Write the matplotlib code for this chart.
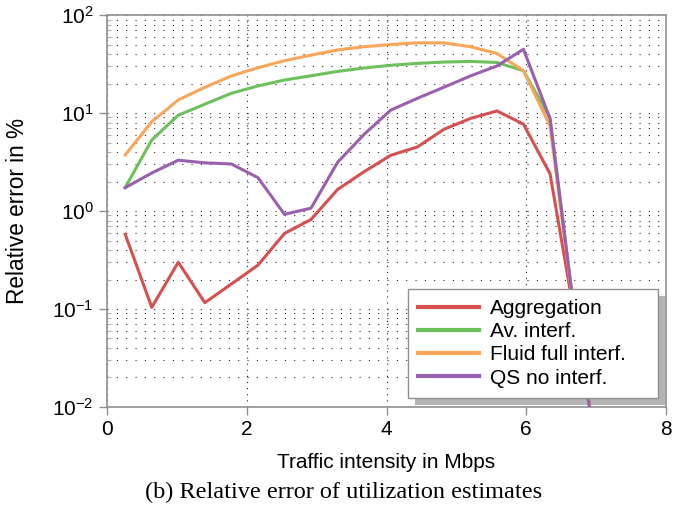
import matplotlib
matplotlib.use('Agg')
import matplotlib.pyplot as plt
from matplotlib.patches import Rectangle
from matplotlib.ticker import LogLocator, LogFormatterSciNotation, NullFormatter

plt.rcParams['font.family'] = ['Liberation Sans', 'DejaVu Sans']
plt.rcParams['mathtext.fontset'] = 'custom'
plt.rcParams['mathtext.rm'] = 'Liberation Sans'

# traffic intensity (Mbps) and relative errors (%)
traffic = [0.26, 0.64, 1.02, 1.40, 1.78, 2.16, 2.54, 2.92, 3.30, 3.68,
           4.06, 4.44, 4.82, 5.20, 5.58, 5.96, 6.34, 6.72, 7.10]

aggregation = [0.58, 0.104, 0.30, 0.116, 0.18, 0.28, 0.59, 0.82, 1.66, 2.52,
               3.7, 4.5, 6.8, 8.8, 10.5, 7.7, 2.4, 0.065, 0.0015]
av_interf = [1.73, 5.3, 9.5, 12.3, 15.9, 18.9, 21.7, 24.0, 26.6, 28.8,
             30.7, 32.1, 33.1, 33.6, 32.8, 27.0, 8.9, 0.06, 0.0015]
fluid_full = [3.73, 8.15, 13.6, 18.3, 23.9, 29.0, 34.2, 39.0, 44.0, 47.5,
              50.0, 52.0, 52.0, 47.5, 40.6, 27.0, 7.4, 0.06, 0.0015]
qs_no_interf = [1.73, 2.44, 3.3, 3.1, 3.02, 2.19, 0.925, 1.07, 3.14, 6.06,
                10.7, 14.1, 18.3, 23.9, 30.2, 44.7, 8.8, 0.06, 0.0015]

labels = ['Aggregation', 'Av. interf.', 'Fluid full interf.', 'QS no interf.']
colors = ['#d65050', '#6dc05c', '#f9a55a', '#9a60b0']

fig = plt.figure(figsize=(6.73, 5.18), dpi=100)
ax = fig.add_axes([0.159, 0.2143, 0.8306, 0.7567])

for ys, lab, c in zip([aggregation, av_interf, fluid_full, qs_no_interf], labels, colors):
    ax.plot(traffic, ys, color=c, lw=2.2, label=lab, zorder=3)

ax.set_yscale('log')
ax.set_xlim(0, 8)
ax.set_ylim(1e-2, 1e2)
ax.set_xticks([0, 2, 4, 6, 8])
ax.yaxis.set_major_locator(LogLocator(base=10, numticks=10))
ax.yaxis.set_minor_locator(LogLocator(base=10, subs=range(2, 10), numticks=20))
ax.yaxis.set_major_formatter(LogFormatterSciNotation())
ax.yaxis.set_minor_formatter(NullFormatter())

# dotted grid
ax.grid(True, which='both', axis='y', color='0.15', lw=0.8, linestyle=(0, (1, 7.4)))
ax.grid(True, which='major', axis='x', color='0.15', lw=0.8, linestyle=(0, (1, 4.5)))
ax.set_axisbelow(True)

for sp in ax.spines.values():
    sp.set_color('#909090')
    sp.set_linewidth(1.2)
ax.tick_params(which='major', direction='out', length=6, color='#909090',
               labelsize=15, width=1)
ax.tick_params(which='minor', direction='in', length=3, color='#b0b0b0', width=0.8)

ax.set_xlabel('Traffic intensity in Mbps', fontsize=15, labelpad=10)
ax.set_ylabel('Relative error in %', fontsize=16.3, labelpad=17)

leg = ax.legend(loc='lower left', bbox_to_anchor=(0.5385, 0.023, 0.447, 0.283),
                mode='expand', borderaxespad=0, fontsize=15, labelspacing=0.2,
                handlelength=2.9, handletextpad=0.55, borderpad=0.5,
                fancybox=False, framealpha=1, edgecolor='#909090')
leg.get_frame().set_linewidth(1.0)
for h in leg.get_lines():
    h.set_linewidth(3)

# offset grey shadow behind the legend box
fig.canvas.draw()
bb = leg.get_window_extent().transformed(ax.transAxes.inverted())
dx = 7 / (0.8306 * 673)
dy = 7 / (0.7567 * 518)
ax.add_patch(Rectangle((bb.x0 + dx, bb.y0 - dy), bb.width, bb.height,
                       transform=ax.transAxes, facecolor='#b4b4b4',
                       edgecolor='none', zorder=2.5, clip_on=False))

fig.text(0.511, 0.050, '(b) Relative error of utilization estimates',
         ha='center', va='center', fontsize=17.5, family='Liberation Serif')

fig.savefig('out.png', dpi=100)
